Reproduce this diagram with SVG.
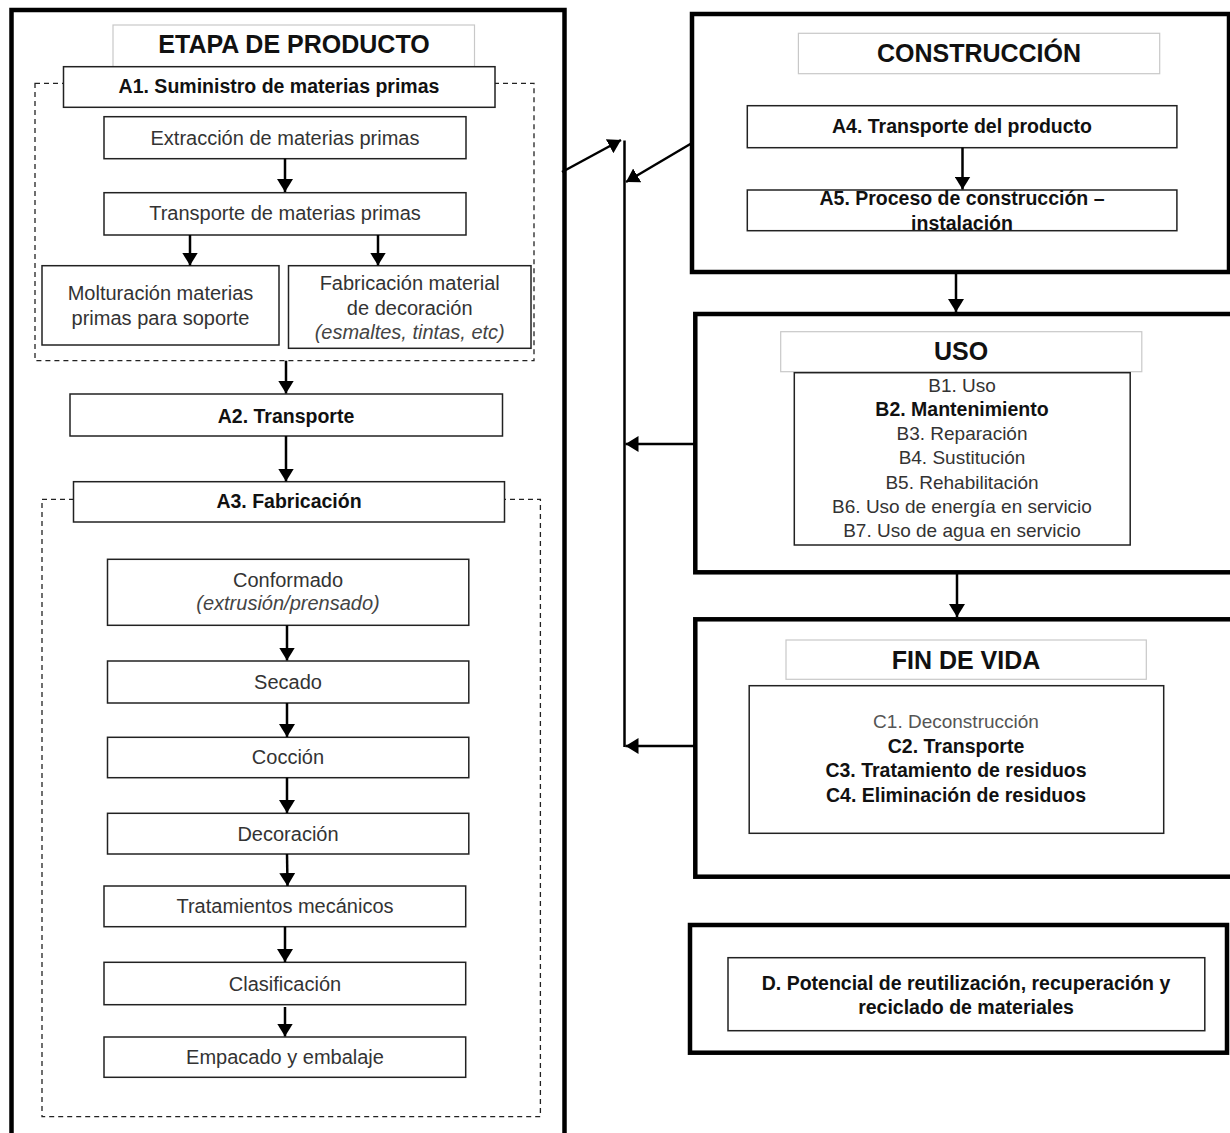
<svg xmlns="http://www.w3.org/2000/svg" width="1230" height="1133" viewBox="0 0 1230 1133">
<style>
.outer{fill:none;stroke:#000;stroke-width:4.5}
.ttl{fill:#fff;stroke:#c8c8c8;stroke-width:1.2}
.box{fill:#fff;stroke:#222;stroke-width:1.5}
.dash{fill:none;stroke:#222;stroke-width:1.3;stroke-dasharray:5 4}
.t{font-family:"Liberation Sans",Arial,sans-serif;font-size:20px;fill:#333;text-anchor:middle}
.s{font-size:19px}
.b{font-weight:bold;fill:#111;font-size:19.5px}
.h{font-size:25px;font-weight:bold;fill:#111}
.i{font-style:italic;fill:#444}
.g{fill:#555}
.conn{stroke:#000;stroke-width:2.5;fill:none}
.arr{marker-end:url(#ah)}
</style>
<defs>
<marker id="ah" markerUnits="userSpaceOnUse" markerWidth="14" markerHeight="16" refX="13" refY="8" orient="auto">
<path d="M0,0 L13,8 L0,16 z" fill="#000"/>
</marker>
</defs>
<rect width="1230" height="1133" fill="#fff"/>

<g id="etapa-producto">
<rect class="outer" x="11.5" y="10" width="553" height="1140"/>
<rect class="ttl" x="113" y="25" width="361.5" height="41.7"/>
<text class="t h" x="294" y="53">ETAPA DE PRODUCTO</text>
</g>

<g id="a1-grupo">
<rect class="dash" x="35" y="83.3" width="499" height="277.4"/>
</g>
<g id="a1">
<rect class="box" x="63.5" y="66.7" width="431.5" height="40.6"/>
<text class="t b" x="279" y="93">A1. Suministro de materias primas</text>
</g>
<g id="extraccion">
<rect class="box" x="104" y="116.7" width="362" height="42"/>
<text class="t" x="285" y="145">Extracción de materias primas</text>
</g>
<g id="transporte-mp">
<rect class="box" x="104" y="192.7" width="362" height="42.3"/>
<text class="t" x="285" y="220">Transporte de materias primas</text>
</g>
<g id="molturacion">
<rect class="box" x="42" y="265.7" width="237" height="79.3"/>
<text class="t" x="160.5" y="300">Molturación materias</text>
<text class="t" x="160.5" y="325">primas para soporte</text>
</g>
<g id="fabricacion-decoracion">
<rect class="box" x="288.5" y="265.7" width="242.5" height="82.6"/>
<text class="t" x="409.7" y="290">Fabricación material</text>
<text class="t" x="409.7" y="315">de decoración</text>
<text class="t i" x="409.7" y="339">(esmaltes, tintas, etc)</text>
</g>

<g id="a2">
<rect class="box" x="70" y="394" width="432.5" height="42"/>
<text class="t b" x="286" y="422.5">A2. Transporte</text>
</g>

<g id="a3-grupo">
<rect class="dash" x="42" y="499.3" width="498.4" height="617.4"/>
</g>
<g id="a3">
<rect class="box" x="73.5" y="481.7" width="431" height="40.3"/>
<text class="t b" x="289" y="508">A3. Fabricación</text>
</g>
<g id="conformado">
<rect class="box" x="107.5" y="559.3" width="361.3" height="66"/>
<text class="t" x="288" y="586.5">Conformado</text>
<text class="t i" x="288" y="609.5">(extrusión/prensado)</text>
</g>
<g id="secado">
<rect class="box" x="107.5" y="661" width="361.3" height="42"/>
<text class="t" x="288" y="688.5">Secado</text>
</g>
<g id="coccion">
<rect class="box" x="107.5" y="737.3" width="361.3" height="40.4"/>
<text class="t" x="288" y="764.3">Cocción</text>
</g>
<g id="decoracion">
<rect class="box" x="107.5" y="813.3" width="361.3" height="40.7"/>
<text class="t" x="288" y="840.7">Decoración</text>
</g>
<g id="tratamientos">
<rect class="box" x="104" y="886" width="361.7" height="40.7"/>
<text class="t" x="285" y="913.3">Tratamientos mecánicos</text>
</g>
<g id="clasificacion">
<rect class="box" x="104" y="962.3" width="361.7" height="42.4"/>
<text class="t" x="285" y="991">Clasificación</text>
</g>
<g id="empacado">
<rect class="box" x="104" y="1037" width="361.7" height="40.3"/>
<text class="t" x="285" y="1064">Empacado y embalaje</text>
</g>

<g id="construccion">
<rect class="outer" x="692" y="14" width="537" height="258"/>
<rect class="ttl" x="798.4" y="33.3" width="361.3" height="40.4"/>
<text class="t h" x="979" y="61.5">CONSTRUCCIÓN</text>
</g>
<g id="a4">
<rect class="box" x="747.3" y="105.7" width="429.6" height="42"/>
<text class="t b" x="962" y="132.5">A4. Transporte del producto</text>
</g>
<g id="a5">
<rect class="box" x="747.3" y="190" width="429.6" height="40.7"/>
<text class="t b" x="962" y="205">A5. Proceso de construcción –</text>
<text class="t b" x="962" y="229.5">instalación</text>
</g>

<g id="uso">
<rect class="outer" x="695.3" y="314" width="545" height="258.3"/>
<rect class="ttl" x="780.7" y="331.7" width="361.1" height="40"/>
<text class="t h" x="961" y="360">USO</text>
</g>
<g id="uso-lista">
<rect class="box" x="794.3" y="372.7" width="335.9" height="172.3"/>
<text class="t s" x="962" y="391.5">B1. Uso</text>
<text class="t s b" x="962" y="415.8">B2. Mantenimiento</text>
<text class="t s" x="962" y="440">B3. Reparación</text>
<text class="t s" x="962" y="464.2">B4. Sustitución</text>
<text class="t s" x="962" y="488.5">B5. Rehabilitación</text>
<text class="t s" x="962" y="513">B6. Uso de energía en servicio</text>
<text class="t s" x="962" y="537.2">B7. Uso de agua en servicio</text>
</g>

<g id="fin-de-vida">
<rect class="outer" x="695.3" y="619.3" width="545" height="257.4"/>
<rect class="ttl" x="786" y="640" width="360.3" height="39.3"/>
<text class="t h" x="966" y="669">FIN DE VIDA</text>
</g>
<g id="fin-lista">
<rect class="box" x="749.2" y="685.7" width="414.5" height="147.6"/>
<text class="t s g" x="956" y="728">C1. Deconstrucción</text>
<text class="t b" x="956" y="752.5">C2. Transporte</text>
<text class="t b" x="956" y="777">C3. Tratamiento de residuos</text>
<text class="t b" x="956" y="801.5">C4. Eliminación de residuos</text>
</g>

<g id="modulo-d">
<rect class="outer" x="690" y="925" width="537" height="127.7"/>
<rect class="box" x="728" y="957.7" width="476.8" height="73"/>
<text class="t b" x="966" y="990">D. Potencial de reutilización, recuperación y</text>
<text class="t b" x="966" y="1013.5">reciclado de materiales</text>
</g>

<g id="connectors">
<line class="conn arr" x1="285" y1="158.7" x2="285" y2="192"/>
<line class="conn arr" x1="190" y1="235" x2="190" y2="265.5"/>
<line class="conn arr" x1="378" y1="235" x2="378" y2="265.5"/>
<line class="conn arr" x1="286" y1="360.7" x2="286" y2="393.5"/>
<line class="conn arr" x1="286" y1="436" x2="286" y2="481.5"/>
<line class="conn arr" x1="287" y1="625.3" x2="287" y2="660.5"/>
<line class="conn arr" x1="287" y1="703" x2="287" y2="737"/>
<line class="conn arr" x1="287" y1="777.7" x2="287" y2="813"/>
<line class="conn arr" x1="287" y1="854" x2="287.5" y2="886"/>
<line class="conn arr" x1="285" y1="926.7" x2="285" y2="962"/>
<line class="conn arr" x1="285" y1="1007" x2="285" y2="1036.5"/>
<line class="conn arr" x1="962.5" y1="147.7" x2="962.5" y2="189.5"/>
<line class="conn arr" x1="956" y1="272" x2="956" y2="312"/>
<line class="conn arr" x1="957" y1="572.3" x2="957" y2="617"/>
<line class="conn arr" x1="562" y1="172" x2="621" y2="140"/>
<line class="conn" x1="624.5" y1="140.5" x2="624.5" y2="747"/>
<line class="conn arr" x1="692" y1="143" x2="626" y2="182"/>
<line class="conn arr" x1="695" y1="444" x2="625.5" y2="444"/>
<line class="conn arr" x1="695" y1="746" x2="625.5" y2="746"/>
</g>
</svg>
